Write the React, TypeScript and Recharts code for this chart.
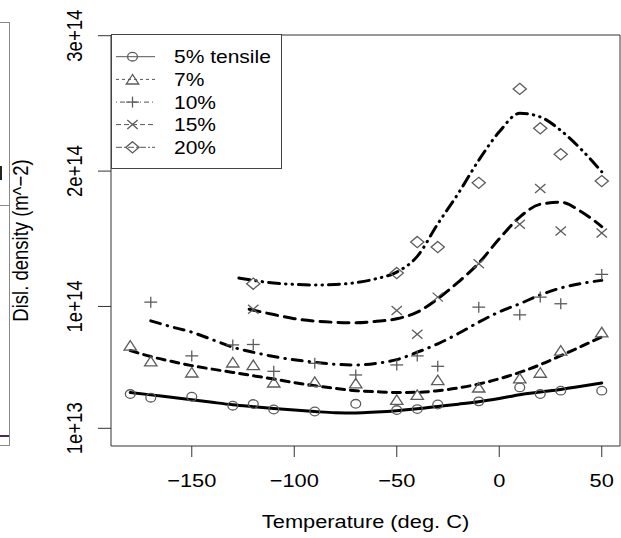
import React from "react";
import {
  ComposedChart,
  Line,
  Scatter,
  XAxis,
  YAxis,
  ReferenceArea,
  Legend,
} from "recharts";

// ---- data (dislocation density in units of 1e13 m^-2) ----
const seriesLabels = ["5% tensile", "7%", "10%", "15%", "20%"];

const temps5 = [-180, -170, -150, -130, -120, -110, -90, -70, -50, -40, -30, -10, 10, 20, 30, 50];
const vals5 = [3.53, 3.26, 3.33, 2.67, 2.79, 2.39, 2.24, 2.81, 2.35, 2.42, 2.76, 2.99, 4.02, 3.53, 3.78, 3.78];

const temps7 = [-180, -170, -150, -130, -120, -110, -90, -70, -50, -40, -30, -10, 10, 20, 30, 50];
const vals7 = [7.11, 5.95, 5.13, 5.87, 5.68, 4.39, 4.44, 4.32, 3.11, 3.48, 4.57, 4.02, 4.69, 5.11, 6.74, 8.1];

const temps10 = [-170, -150, -130, -120, -110, -90, -70, -50, -40, -30, -10, 10, 20, 30, 50];
const vals10 = [10.32, 6.35, 7.16, 7.19, 5.21, 5.8, 4.94, 5.68, 6.35, 5.58, 9.95, 9.38, 10.69, 10.2, 12.37];

const temps15 = [-120, -50, -40, -30, -10, 10, 20, 30, 50];
const vals15 = [9.8, 9.7, 7.95, 10.69, 13.16, 16.07, 18.72, 15.58, 15.43];

const temps20 = [-120, -50, -40, -30, -10, 10, 20, 30, 50];
const vals20 = [11.68, 12.47, 14.76, 14.39, 19.13, 26.07, 23.16, 21.24, 19.26];

// fitted curves
const fitT5 = [-180, -170, -160, -150, -140, -130, -120, -110, -100, -90, -80, -70, -60, -50, -40, -30, -20, -10, 0, 10, 20, 30, 40, 50];
const fitV5 = [3.65, 3.47, 3.29, 3.11, 2.92, 2.74, 2.6, 2.47, 2.35, 2.24, 2.15, 2.13, 2.2, 2.3, 2.44, 2.61, 2.78, 2.96, 3.2, 3.48, 3.68, 3.87, 4.1, 4.35];

const fitT7 = [-180, -170, -160, -150, -140, -130, -120, -110, -100, -90, -80, -70, -60, -50, -40, -30, -20, -10, 0, 10, 20, 30, 40, 50];
const fitV7 = [6.75, 6.3, 5.95, 5.63, 5.37, 5.13, 4.88, 4.64, 4.38, 4.15, 3.95, 3.78, 3.7, 3.65, 3.66, 3.78, 3.98, 4.27, 4.66, 5.13, 5.7, 6.37, 7.05, 7.75];

const fitT10 = [-170, -160, -150, -140, -130, -120, -110, -100, -90, -80, -70, -60, -50, -40, -30, -20, -10, 0, 10, 20, 30, 40, 50];
const fitV10 = [8.94, 8.5, 8.1, 7.55, 6.99, 6.62, 6.3, 6.06, 5.88, 5.73, 5.68, 5.8, 6.07, 6.62, 7.24, 8.0, 8.84, 9.6, 10.2, 10.85, 11.36, 11.7, 11.93];

const fitT15 = [-122, -110, -100, -90, -80, -70, -60, -50, -40, -30, -20, -10, 0, 10, 20, 30, 40, 50];
const fitV15 = [9.8, 9.4, 9.1, 8.92, 8.83, 8.8, 8.9, 9.09, 9.58, 10.57, 11.8, 13.2, 15.0, 16.6, 17.55, 17.7, 17.0, 15.9];

const fitT20 = [-127, -120, -110, -100, -90, -80, -70, -60, -50, -40, -30, -20, -10, 0, 10, 20, 30, 40, 50];
const fitV20 = [12.1, 11.93, 11.73, 11.63, 11.58, 11.62, 11.76, 12.05, 12.54, 13.7, 16.1, 18.35, 20.8, 22.9, 24.27, 24.0, 23.0, 21.6, 19.95];

const xTicks = [-150, -100, -50, 0, 50];
const xTickLabels = ["\u2212150", "\u2212100", "\u221250", "0", "50"];
const yTicks = [1, 10, 20, 30];
const yTickLabels = ["1e+13", "1e+14", "2e+14", "3e+14"];

// ---- helpers ----
const pts = (ts: number[], vs: number[]) => ts.map((t, i) => ({ t, v: vs[i] }));

const FONT = "'Liberation Sans', Arial, Helvetica, sans-serif";
const SX = 1.18; // horizontal stretch of the original image
const MK = "#5c5c5c";
const MW = 1.3;

type Kind = "circle" | "triangle" | "plus" | "cross" | "diamond";
const kinds: Kind[] = ["circle", "triangle", "plus", "cross", "diamond"];

function Marker({ kind, cx, cy }: { kind: Kind; cx: number; cy: number }) {
  if (cx == null || cy == null) return null;
  const common = { fill: "none", stroke: MK, strokeWidth: MW };
  switch (kind) {
    case "circle":
      return <ellipse cx={cx} cy={cy} rx={4.9} ry={4.3} {...common} />;
    case "triangle":
      return (
        <polygon
          points={`${cx},${cy - 4.9} ${cx - 6.2},${cy + 4.6} ${cx + 6.2},${cy + 4.6}`}
          {...common}
        />
      );
    case "plus":
      return (
        <g {...common}>
          <line x1={cx - 6.4} y1={cy} x2={cx + 6.4} y2={cy} />
          <line x1={cx} y1={cy - 5.5} x2={cx} y2={cy + 5.5} />
        </g>
      );
    case "cross":
      return (
        <g {...common}>
          <line x1={cx - 5.2} y1={cy - 4.5} x2={cx + 5.2} y2={cy + 4.5} />
          <line x1={cx - 5.2} y1={cy + 4.5} x2={cx + 5.2} y2={cy - 4.5} />
        </g>
      );
    case "diamond":
      return (
        <polygon
          points={`${cx},${cy - 5.6} ${cx + 6.6},${cy} ${cx},${cy + 5.6} ${cx - 6.6},${cy}`}
          {...common}
        />
      );
  }
  return null;
}

const scatterData = [
  pts(temps5, vals5),
  pts(temps7, vals7),
  pts(temps10, vals10),
  pts(temps15, vals15),
  pts(temps20, vals20),
];
const fitData = [
  pts(fitT5, fitV5),
  pts(fitT7, fitV7),
  pts(fitT10, fitV10),
  pts(fitT15, fitV15),
  pts(fitT20, fitV20),
];
const fitDash = [undefined, "8 6", "10 7 0.5 7", "11 7", "11 6 0.5 6 0.5 6"];
const legendDash = [undefined, "3 3", "1 3 5 3", "5 3", "6 2 2 2"];

function XTick(props: any) {
  const { x, payload } = props;
  const idx = xTicks.indexOf(payload.value);
  return (
    <g transform={`translate(${x},487) scale(${SX},1)`}>
      <text x={0} y={0} textAnchor="middle" fontFamily={FONT} fontSize={18.5} fill="#000">
        {xTickLabels[idx]}
      </text>
    </g>
  );
}

function YTick(props: any) {
  const { y, payload } = props;
  const idx = yTicks.indexOf(payload.value);
  return (
    <g transform={`translate(82,${y}) scale(${SX},1) rotate(-90)`}>
      <text x={0} y={0} textAnchor="middle" fontFamily={FONT} fontSize={18.5} fill="#000">
        {yTickLabels[idx]}
      </text>
    </g>
  );
}

function LegendBox() {
  const rowY = [22.7, 45.4, 68.1, 90.6, 113.3];
  return (
    <svg width={172} height={136} style={{ display: "block" }}>
      <rect x={0.5} y={0.5} width={170} height={134} fill="#fff" stroke="#444" strokeWidth={1} />
      {seriesLabels.map((lab, i) => (
        <g key={lab}>
          <line
            x1={5}
            x2={44}
            y1={rowY[i]}
            y2={rowY[i]}
            stroke="#555"
            strokeWidth={1}
            strokeDasharray={legendDash[i]}
          />
          <Marker kind={kinds[i]} cx={21.5} cy={rowY[i]} />
          <g transform={`translate(63,${rowY[i] + 6.6}) scale(${SX},1)`}>
            <text x={0} y={0} fontFamily={FONT} fontSize={17.8} fill="#000">
              {lab}
            </text>
          </g>
        </g>
      ))}
    </svg>
  );
}

export default function App() {
  return (
    <div style={{ position: "absolute", left: 0, top: 0, width: 621, height: 538, background: "#fff" }}>
      {/* fragment of neighbouring panel */}
      <svg width={12} height={460} style={{ position: "absolute", left: 0, top: 0 }}>
        <line x1={9.5} y1={22} x2={9.5} y2={446} stroke="#888" strokeWidth={1} />
        <line x1={0} y1={22.5} x2={9.5} y2={22.5} stroke="#888" strokeWidth={1} />
        <line x1={0} y1={205.5} x2={9.5} y2={205.5} stroke="#888" strokeWidth={1} />
        <line x1={0} y1={445.5} x2={9.5} y2={445.5} stroke="#888" strokeWidth={1} />
        <line x1={0} y1={436} x2={9} y2={436} stroke="#4a2a5a" strokeWidth={2} />
        <line x1={1} y1={166} x2={1} y2={180} stroke="#222" strokeWidth={2} />
      </svg>
      <ComposedChart
        width={621}
        height={538}
        margin={{ top: 35, right: 1, bottom: 0, left: 0 }}
        style={{ position: "absolute", left: 0, top: 0 }}
      >
        <XAxis
          type="number"
          dataKey="t"
          domain={[-189.4, 58.9]}
          allowDataOverflow
          ticks={xTicks}
          interval={0}
          height={92}
          axisLine={false}
          tickSize={11}
          tickLine={{ stroke: "#333", strokeWidth: 1 }}
          tick={<XTick />}
          label={(() => (
            <g transform={`translate(365.5,528) scale(${SX},1)`}>
              <text x={0} y={0} textAnchor="middle" fontFamily={FONT} fontSize={18.5} fill="#000">
                Temperature (deg. C)
              </text>
            </g>
          )) as any}
        />
        <YAxis
          type="number"
          dataKey="v"
          domain={[-0.307, 30.052]}
          allowDataOverflow
          ticks={yTicks}
          interval={0}
          width={111}
          axisLine={false}
          tickSize={13}
          tickLine={{ stroke: "#333", strokeWidth: 1 }}
          tick={<YTick />}
          label={(() => (
            <g transform={`translate(28,240.5) scale(${SX},1) rotate(-90)`}>
              <text x={0} y={0} textAnchor="middle" fontFamily={FONT} fontSize={18.5} fill="#000">
                Disl. density (m^{"\u2212"}2)
              </text>
            </g>
          )) as any}
        />
        <ReferenceArea
          x1={-189.4}
          x2={58.9}
          y1={-0.307}
          y2={30.052}
          fill="none"
          fillOpacity={0}
          stroke="#333"
          strokeWidth={1}
          ifOverflow="visible"
        />
        {fitData.map((d, i) => (
          <Line
            key={"fit" + i}
            data={d}
            dataKey="v"
            type="monotone"
            stroke="#000"
            strokeWidth={3}
            strokeDasharray={fitDash[i]}
            strokeLinecap="round"
            dot={false}
            activeDot={false}
            isAnimationActive={false}
            legendType="none"
          />
        ))}
        {scatterData.map((d, i) => (
          <Scatter
            key={"sc" + i}
            data={d}
            dataKey="v"
            isAnimationActive={false}
            shape={(p: any) => <Marker kind={kinds[i]} cx={p.cx} cy={p.cy} />}
          />
        ))}
        <Legend
          layout="horizontal"
          verticalAlign="middle"
          align="center"
          wrapperStyle={{ left: 111, top: 34, width: 172, height: 136 }}
          content={() => <LegendBox />}
        />
      </ComposedChart>
    </div>
  );
}
